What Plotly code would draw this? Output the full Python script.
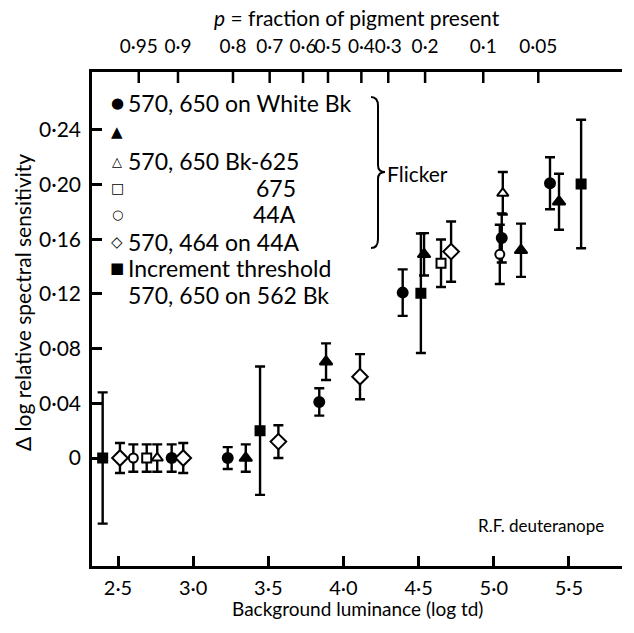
import plotly.graph_objects as go

# ---------------- data ----------------
# x: background luminance (log td); y: delta log relative spectral sensitivity
fc_x = [2.857, 3.230, 3.839, 4.394, 5.053, 5.374]          # filled circle: 570,650 on White Bk
fc_y = [0.0, 0.0, 0.041, 0.121, 0.161, 0.201]
fc_e = [0.010, 0.008, 0.010, 0.017, 0.018, 0.019]

ft_x = [3.350, 3.884, 4.536, 5.181, 5.434]                 # filled triangle
ft_y = [0.0, 0.0705, 0.149, 0.152, 0.1875]
ft_e = [0.010, 0.0134, 0.0155, 0.0195, 0.0205]

ot_x = [2.761, 5.060]                                      # open triangle: 570,650 Bk-625
ot_y = [0.0, 0.1937]
ot_e = [0.010, 0.0155]

os_x = [2.691, 4.649]                                      # open square: 675
os_y = [0.0, 0.1425]
os_e = [0.010, 0.0174]

oc_x = [2.602, 5.040]                                      # open circle: 44A
oc_y = [0.0, 0.149]
oc_e = [0.010, 0.0217]

od_x = [2.513, 2.934, 3.567, 4.110, 4.716]                 # open diamond: 570,464 on 44A
od_y = [0.0, 0.0, 0.012, 0.0595, 0.151]
od_e = [0.011, 0.011, 0.012, 0.0165, 0.022]

fs_x = [2.398, 3.445, 4.515, 5.581]                        # filled square: increment threshold
fs_y = [0.0, 0.020, 0.1205, 0.2005]
fs_e = [0.048, 0.047, 0.0437, 0.047]

x_ticks = [2.5, 3.0, 3.5, 4.0, 4.5, 5.0, 5.5]
x_ticktext = ["2·5", "3·0", "3·5", "4·0", "4·5", "5·0", "5·5"]
y_ticks = [0, 0.04, 0.08, 0.12, 0.16, 0.20, 0.24]
y_ticktext = ["0", "0·04", "0·08", "0·12", "0·16", "0·20", "0·24"]
p_ticks = [2.638, 2.899, 3.265, 3.509, 3.731, 3.897, 4.119, 4.298, 4.543, 4.930, 5.296]
p_ticktext = ["0·95", "0·9", "0·8", "0·7", "0·6", "0·5", "0·4", "0·3", "0·2", "0·1", "0·05"]

legend_labels = ["570, 650 on White Bk", "", "570, 650 Bk-625", "675", "44A",
                 "570, 464 on 44A", "Increment threshold"]
legend_extra = "570, 650 on 562 Bk"

# ---------------- layout geometry ----------------
W, H = 634, 633
L, R, T, B = 92, 12, 72, 67
x_range = [2.327, 5.853]
y_range = [-0.079, 0.2824]
FONT = "Lato"
PLOT_H = H - T - B


def px(xp):
    return (xp - L) / (W - L - R)


def py(yp):
    return (H - B - yp) / PLOT_H


fig = go.Figure()


def add(xs, ys, es, symbol, fill, size):
    fig.add_trace(go.Scatter(
        x=xs, y=ys, mode="markers",
        marker=dict(symbol=symbol, size=size, color=fill,
                    line=dict(color="black", width=2)),
        error_y=dict(type="data", array=es, visible=True, color="black",
                     thickness=2.4, width=5),
        showlegend=False))


add(fs_x, fs_y, fs_e, "square", "black", 9)
add(fc_x, fc_y, fc_e, "circle", "black", 10)
add(ft_x, ft_y, ft_e, "triangle-up", "black", 11)
add(ot_x, ot_y, ot_e, "triangle-up", "white", 10)
add(os_x, os_y, os_e, "square", "white", 9)
add(oc_x, oc_y, oc_e, "circle", "white", 9)
add(od_x, od_y, od_e, "diamond", "white", 12)

# inward ticks of the top (pigment-fraction) axis, drawn on the x scale
tick_len = 11 * (y_range[1] - y_range[0]) / PLOT_H
tx, ty = [], []
for pv in p_ticks:
    tx += [pv, pv, None]
    ty += [y_range[1], y_range[1] - tick_len, None]
fig.add_trace(go.Scatter(x=tx, y=ty, mode="lines", line=dict(color="black", width=2.5),
                         showlegend=False, hoverinfo="skip"))

# invisible trace on the top (pigment-fraction) axis so its labels render
fig.add_trace(go.Scatter(x=[x_range[0]], y=[y_range[0]], xaxis="x2", yaxis="y", mode="markers",
                         marker=dict(opacity=0), showlegend=False, hoverinfo="skip"))

axis_common = dict(showline=True, linecolor="black", linewidth=2.5, ticks="inside",
                   ticklen=10, tickwidth=2.5, tickcolor="black", showgrid=False,
                   zeroline=False, tickangle=0)

fig.update_layout(
    width=W, height=H, margin=dict(l=L, r=R, t=T, b=B),
    plot_bgcolor="white", paper_bgcolor="white",
    xaxis=dict(range=x_range, tickmode="array", tickvals=x_ticks, ticktext=x_ticktext,
               ticklabelstandoff=2, mirror=True,
               tickfont=dict(family=FONT, size=20, color="black"), **axis_common),
    xaxis2=dict(range=x_range, overlaying="x", side="top", anchor="y", tickmode="array",
                tickvals=p_ticks, ticktext=p_ticktext, ticks="", showline=False,
                showgrid=False, zeroline=False, tickangle=0, ticklabelstandoff=14,
                tickfont=dict(family=FONT, size=19, color="black")),
    yaxis=dict(range=y_range, tickmode="array", tickvals=y_ticks, ticktext=y_ticktext,
               ticklabelstandoff=4, tickfont=dict(family=FONT, size=21, color="black"),
               **axis_common),
)

ann = []
# titles
ann.append(dict(text="Background luminance (log td)", x=px(357), y=py(608),
                font=dict(size=19)))
ann.append(dict(text="Δ log relative spectral sensitivity", x=px(22), y=py(303),
                textangle=-90, font=dict(size=21)))
ann.append(dict(text="<i>p</i> = fraction of pigment present", x=px(357), y=py(18),
                font=dict(size=21)))
ann.append(dict(text="R.F. deuteranope", x=px(541), y=py(525), font=dict(size=17)))
ann.append(dict(text="Flicker", x=px(385), y=py(174), xanchor="left", font=dict(size=21)))

# legend
sym = ["●", "▲", "△", "□", "○", "◇", "■"]
sym_y = [103, 132, 161, 188, 214, 242, 268]
sym_size = [15, 15, 13, 14, 13, 15, 15]
for s, yy, ss in zip(sym, sym_y, sym_size):
    ann.append(dict(text=s, x=px(117), y=py(yy), font=dict(size=ss, family="DejaVu Sans")))
LEG = 23
for i, (lab, yy) in enumerate(zip(legend_labels, sym_y)):
    if not lab:
        continue
    if lab in ("675", "44A"):
        ann.append(dict(text=lab, x=px(298), y=py(yy), xanchor="right", font=dict(size=LEG)))
    else:
        ann.append(dict(text=lab, x=px(126), y=py(yy), xanchor="left", font=dict(size=LEG)))
ann.append(dict(text=legend_extra, x=px(126), y=py(295), xanchor="left", font=dict(size=LEG)))

for a in ann:
    a.setdefault("xref", "paper")
    a.setdefault("yref", "paper")
    a.setdefault("showarrow", False)
    a.setdefault("xanchor", "center")
    a.setdefault("yanchor", "middle")
    f = a["font"]
    f.setdefault("family", FONT)
    f.setdefault("color", "black")
fig.update_layout(annotations=ann)

# curly brace for "Flicker"
bx0, bx1, btip = 371, 378, 385
yt, ym, yb = 97, 172, 248
path = (f"M {px(bx0)},{py(yt)} Q {px(bx1)},{py(yt)} {px(bx1)},{py(yt + 9)} "
        f"L {px(bx1)},{py(ym - 7)} Q {px(bx1)},{py(ym)} {px(btip)},{py(ym)} "
        f"Q {px(bx1)},{py(ym)} {px(bx1)},{py(ym + 7)} "
        f"L {px(bx1)},{py(yb - 9)} Q {px(bx1)},{py(yb)} {px(bx0)},{py(yb)}")
fig.add_shape(type="path", path=path, xref="paper", yref="paper",
              line=dict(color="black", width=2))

fig.write_html("out.html")
